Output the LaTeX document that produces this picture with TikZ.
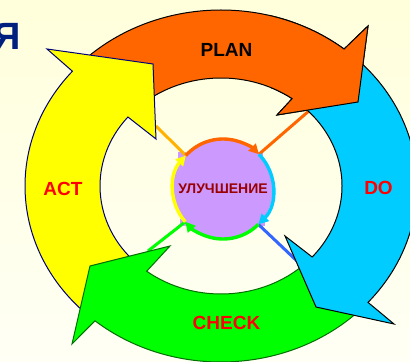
\documentclass[tikz,border=0pt]{standalone}
\usepackage{fontspec}
\setmainfont{Liberation Sans}
\usepackage{tikz}
\usetikzlibrary{arrows.meta}
\definecolor{planorange}{RGB}{255,102,0}
\definecolor{docyan}{RGB}{0,204,255}
\definecolor{checkgreen}{RGB}{0,255,0}
\definecolor{actyellow}{RGB}{255,255,0}
\definecolor{lilac}{RGB}{204,153,255}
\definecolor{imprred}{RGB}{153,0,0}
\definecolor{raygold}{RGB}{255,179,0}
\definecolor{rayblue}{RGB}{51,102,255}
\definecolor{titleblue}{RGB}{0,32,128}
\definecolor{actnavy}{RGB}{0,0,120}
\definecolor{checkdark}{RGB}{0,110,0}
\definecolor{bgtop}{RGB}{255,255,219}
\definecolor{bgbot}{RGB}{255,255,245}
\newcommand\planpath{({221+196*cos(226)},{186+176*sin(226)}) arc[start angle=226,end angle=308.9,x radius=196,y radius=176]
  -- (368,26) -- (358,102) -- (277,115)
  -- ({221+121*cos(306)},{186+108*sin(306)}) arc[start angle=306,end angle=226,x radius=121,y radius=108] -- cycle}

\begin{document}
\begin{tikzpicture}[x=0.5pt,y=-0.5pt,
  band/.style={line width=0.5pt},
  ray/.style={line width=1.5pt},
  loop/.style={line width=1.7pt,-{Triangle[length=5pt,width=5pt]}},
  lbl/.style={font=\bfseries\fontsize{9.5}{11}\selectfont,inner sep=0pt}]
\useasboundingbox (0,0) rectangle (410,362);
\shade[top color=bgtop,bottom color=bgbot] (0,0) rectangle (410,362);
\node[font=\bfseries\fontsize{19}{20}\selectfont,text=titleblue,inner sep=0pt,anchor=east] (ya) at (21,36) {Я};
\node[circle,fill=lilac,minimum size=50pt,inner sep=0pt,text=imprred,font=\bfseries\fontsize{7}{8}\selectfont] (impr) at (223,189) {УЛУЧШЕНИЕ};
\fill[lilac] (178,152) rectangle (186,159);
\fill[lilac] (256,152) rectangle (263,159);
\fill[lilac] (256,219) rectangle (265,226);
\fill[lilac] (180,219) rectangle (187,226);
\coordinate (actray) at (156,126);
\coordinate (planray) at (310,110);
\coordinate (doray) at (297,261);
\coordinate (checkray) at (148,251);
\draw[ray,raygold] (actray) -- (impr.138);
\draw[ray,planorange] (planray) -- (impr.44);
\draw[ray,rayblue] (doray) -- (impr.315);
\draw[ray,checkgreen] (checkray) -- (impr.221);
\filldraw[band,fill=planorange,draw=black] \planpath;
\filldraw[band,fill=actyellow,draw=actnavy] ({221+196*cos(134)},{186+176*sin(134)}) arc[start angle=134,end angle=220.7,x radius=196,y radius=176]
  -- (47,49) -- (153,64) -- (156,139)
  -- ({221+121*cos(219.7)},{186+108*sin(219.7)}) arc[start angle=219.7,end angle=134,x radius=121,y radius=108] -- cycle;
\filldraw[band,fill=checkgreen,draw=checkdark] ({221+196*cos(46)},{186+176*sin(46)}) arc[start angle=46,end angle=130,x radius=196,y radius=176]
  -- (72,344) -- (90,266) -- (170,246)
  -- ({221+121*cos(127.9)},{186+108*sin(127.9)}) arc[start angle=127.9,end angle=46,x radius=121,y radius=108] -- cycle;
\filldraw[band,fill=docyan,draw=black] ({221+196*cos(311)},{186+176*sin(311)}) arc[start angle=311,end angle=401.4,x radius=196,y radius=176]
  -- (394,324) -- (316,307) -- (285,236)
  -- ({221+121*cos(401.1)},{186+108*sin(401.1)}) arc[start angle=401.1,end angle=311,x radius=121,y radius=108] -- cycle;
\begin{scope}
\clip (270,0) rectangle (410,125);
\filldraw[band,fill=planorange,draw=black] \planpath;
\end{scope}
\draw[loop,actyellow] (impr.center) ++(139:50) arc[start angle=139,end angle=222,radius=50];
\draw[loop,planorange] (impr.center) ++(222:50) arc[start angle=222,end angle=316,radius=50];
\draw[loop,docyan] (impr.center) ++(316:50) arc[start angle=316,end angle=405,radius=50];
\draw[loop,checkgreen] (impr.center) ++(45:50) arc[start angle=45,end angle=139,radius=50];
\node[lbl] (plan) at (226.5,49.5) {PLAN};
\node[lbl,text=red] (act) at (63,189) {ACT};
\node[lbl,text=red] (do) at (378.5,188) {DO};
\node[lbl,text=red] (check) at (226.5,323) {CHECK};
\end{tikzpicture}
\end{document}
